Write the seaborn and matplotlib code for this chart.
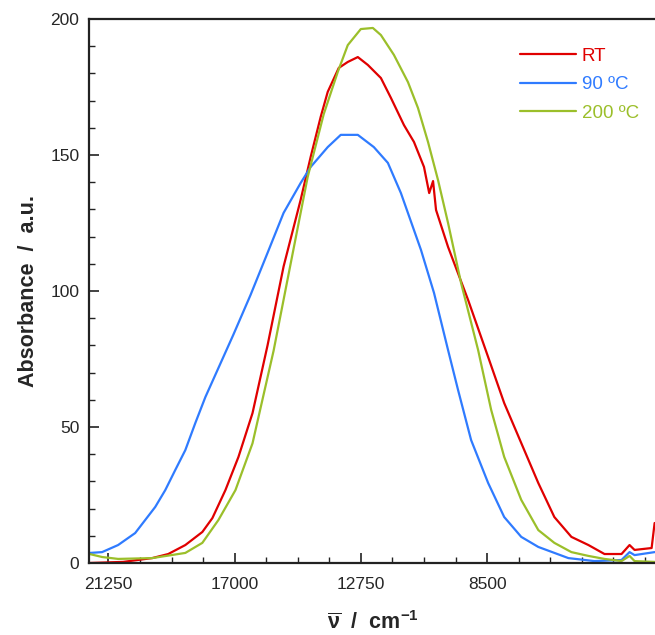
import numpy as np
import pandas as pd
import matplotlib
matplotlib.use('Agg')
import matplotlib.pyplot as plt
import seaborn as sns
from matplotlib.ticker import MultipleLocator

# Values (wavenumber in cm-1, absorbance in a.u.)
rt_wn = [21902, 20754, 19775, 19235, 18660, 18087, 17749, 17310, 16871, 16398,
         15892, 15352, 14778, 14440, 14103, 13866, 13495, 13191, 12853,
         12515, 12076, 11739, 11300, 10963, 10625, 10450, 10320, 10220, 9815,
         9140, 8465, 7925, 7351, 6777, 6237, 5663, 5089, 4549, 3975, 3705,
         3536, 2962, 2861]
rt_abs = [0.0, 0.4, 1.8, 3.3, 6.6, 11.4, 16.5, 26.8, 39.0, 55.1,
          80.0, 109.0, 133.5, 149.3, 164.0, 173.2, 182.0, 184.2, 186.0,
          183.1, 178.3, 171.0, 161.0, 154.8, 145.6, 136.0, 140.4, 129.8, 116.2,
          96.7, 75.7, 58.8, 44.1, 29.4, 16.9, 9.6, 6.6, 3.3, 3.3, 6.6,
          4.8, 5.5, 14.7]

c90_wn = [21868, 21463, 20923, 20349, 20011, 19673, 19335, 18998, 18660, 18322,
          17985, 17040, 16466, 15892, 15352, 14778, 14440, 13866, 13427,
          12853, 12313, 11841, 11402, 10727, 10288, 9815, 9478, 9039, 8465,
          7925, 7351, 6777, 5764, 4887, 3975, 3705, 3536, 2861]
c90_abs = [3.7, 4.0, 6.6, 11.0, 15.8, 20.6, 26.8, 34.2, 41.5, 51.5,
           61.0, 84.0, 98.5, 114.0, 128.7, 139.7, 145.6, 152.9, 157.4,
           157.4, 152.9, 147.1, 136.0, 115.1, 99.3, 78.3, 63.6, 45.2, 29.4,
           16.9, 9.6, 5.9, 1.8, 0.7, 1.1, 4.0, 2.9, 4.0]

c200_wn = [22036, 21463, 20923, 19775, 18660, 18087, 17546, 16972, 16398,
           15689, 15115, 14541, 14001, 13529, 13191, 12752, 12347, 12076,
           11638, 11165, 10828, 10490, 10153, 9815, 9376, 8803,
           8364, 7925, 7351, 6777, 6237, 5663, 5089, 4549, 3975, 3705, 3536, 2861]
c200_abs = [3.7, 2.2, 1.5, 1.8, 3.7, 7.4, 15.8, 26.8, 44.0,
            78.0, 110.0, 141.9, 165.0, 180.5, 190.4, 196.3, 196.7, 194.1,
            186.8, 176.8, 167.3, 154.8, 140.8, 125.0, 102.9, 78.3,
            56.3, 39.0, 23.2, 12.1, 7.4, 4.0, 2.6, 1.5, 0.7, 2.6, 0.7, 0.4]

labels = ['RT', '90 ºC', '200 ºC']
colors = ['#e00000', '#2f7bff', '#9bbf2a']

df = pd.concat([
    pd.DataFrame({'wn': rt_wn, 'A': rt_abs, 'T': labels[0]}),
    pd.DataFrame({'wn': c90_wn, 'A': c90_abs, 'T': labels[1]}),
    pd.DataFrame({'wn': c200_wn, 'A': c200_abs, 'T': labels[2]}),
])

sns.set_style('ticks')
plt.rcParams['font.family'] = ['Liberation Sans', 'DejaVu Sans']
plt.rcParams['mathtext.fontset'] = 'custom'
plt.rcParams['mathtext.rm'] = 'Liberation Sans'
plt.rcParams['mathtext.bf'] = 'Liberation Sans:bold'

fig = plt.figure(figsize=(6.55, 6.35), dpi=100)
ax = fig.add_axes([0.136, 0.1134, 0.868, 0.8567])

sns.lineplot(data=df, x='wn', y='A', hue='T', palette=colors, sort=False,
             estimator=None, linewidth=1.6, ax=ax)

ax.set_xlim(21900, 2760)
ax.set_ylim(0, 200)
ax.xaxis.set_minor_locator(MultipleLocator(1062.5))
ax.set_xticks([21250, 17000, 12750, 8500])
ax.yaxis.set_major_locator(MultipleLocator(50))
ax.yaxis.set_minor_locator(MultipleLocator(10))
ax.tick_params(which='major', direction='in', length=7, width=1.2,
               labelsize=12.5, color='#222222', pad=7)
ax.tick_params(which='minor', direction='in', length=4, width=1.0, color='#222222')
ax.tick_params(axis='x', pad=10)
for s in ax.spines.values():
    s.set_linewidth(1.6)
    s.set_color('#222222')

ax.set_xlabel(r'$\mathbf{\overline{\nu}}$  /  cm$^{\mathbf{-1}}$', fontsize=15.5,
              fontweight='bold', labelpad=14)
ax.set_ylabel('Absorbance  /  a.u.', fontsize=15.5, fontweight='bold', labelpad=8)

leg = ax.legend(loc='upper right', bbox_to_anchor=(0.997, 0.978), frameon=False,
                fontsize=13.5, handlelength=3.0, handletextpad=0.3, labelspacing=0.6)
for txt, c in zip(leg.get_texts(), colors):
    txt.set_color(c)

fig.savefig('out.png', dpi=100)
